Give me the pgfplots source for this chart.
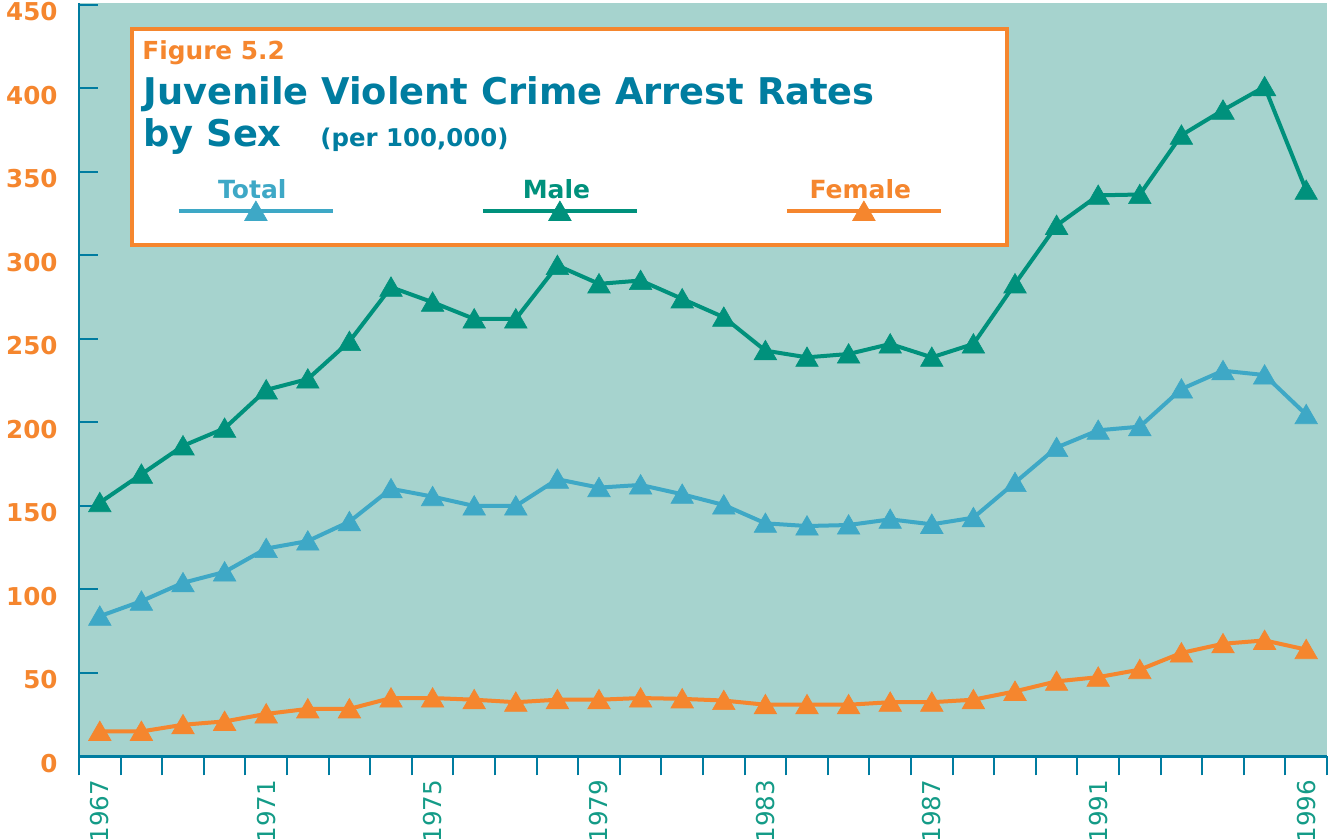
\documentclass[border=0pt]{standalone}
\usepackage{fontspec}
\setmainfont{DejaVu Sans}
\usepackage{pgfplots}
\usepackage{pgfplotstable}
\pgfplotsset{compat=1.18}
\definecolor{bgteal}{RGB}{166,211,206}
\definecolor{axisblue}{RGB}{0,124,160}
\definecolor{malec}{RGB}{0,145,124}
\definecolor{totalc}{RGB}{62,168,198}
\definecolor{femalec}{RGB}{245,134,46}
\definecolor{xlab}{RGB}{20,155,135}
\definecolor{titlec}{RGB}{0,125,160}

\pgfplotstableread{
year total male female
1967 84 152 15
1968 93 169 15
1969 104 186 19
1970 110.5 196.5 21
1971 124.5 219.5 25.5
1972 129 226 28.5
1973 140.6 248.5 28.5
1974 160.3 281 35
1975 155.6 272 35
1976 150 262 34
1977 150 262 32.5
1978 166 294 34
1979 161 283 34
1980 162.6 285 35
1981 157 274 34.5
1982 150.6 263 33.5
1983 139.6 243 31
1984 138 239 31
1985 138.6 241 31
1986 142 247 32.5
1987 139 239 32.5
1988 143 247 34
1989 164 283 39
1990 185 318 45
1991 195.3 336 47.5
1992 197.5 336.5 52
1993 220 372 62
1994 231 387 67.5
1995 228.4 401 69.5
1996 204.7 339 64
}\datatable

\begin{document}
\begin{tikzpicture}
\begin{axis}[
  at={(0,0)}, anchor=south west,
  scale only axis, width=624pt, height=376.6pt,
  xmin=1966.5, xmax=1996.5, ymin=0, ymax=451,
  clip=false,
  axis lines*=left,
  axis line style={draw=axisblue, line width=1.2pt},
  axis background/.style={fill=bgteal},
  xtick={1966.5,1967.5,...,1996.6},
  xticklabels={},
  ytick={0,50,...,450},
  xtick align=outside, ytick align=inside,
  major tick length=9.5pt,
  tick style={draw=axisblue, line width=1pt},
  xticklabel shift=11.5pt,
  extra x ticks={1967,1971,1975,1979,1983,1987,1991,1996},
  extra x tick labels={1967,1971,1975,1979,1983,1987,1991,1996},
  extra x tick style={major tick length=0pt, tick style={draw=none},
    xticklabel style={rotate=90, anchor=east, inner sep=0pt, text=xlab,
      font=\fontsize{12.3}{14}\selectfont}},
  /pgf/number format/assume math mode=true,
  yticklabel style={font=\bfseries\fontsize{12.3}{14}\selectfont, text=femalec,
    inner sep=0pt, xshift=-10.5pt, yshift=-3.5pt},
  legend columns=3,
  legend style={at={(axis description cs:0.02644,0.7667)}, anchor=north west,
    draw=none, fill=none, inner sep=0pt,
    font=\bfseries\fontsize{12.5}{15}\selectfont,
    nodes={text width=140pt, align=center, inner sep=0pt},
    /tikz/every even column/.append style={column sep=12pt}},
  legend image code/.code={
    \draw[overlay,#1,line width=2pt] (33.25pt,-10.5pt) -- (110.25pt,-10.5pt);
    \draw[overlay,#1] plot coordinates {(71.75pt,-10.5pt)};
  },
]
\draw[femalec, line width=2pt, fill=white]
  (axis description cs:0.04207,0.96588) rectangle (axis description cs:0.74359,0.67844);
\node[anchor=base west, inner sep=0pt, text=femalec, font=\bfseries\fontsize{12.4}{15}\selectfont]
  at (axis description cs:0.05048,0.92472) {Figure 5.2};
\node[anchor=base west, inner sep=0pt, text=titlec, font=\bfseries\fontsize{18.4}{22}\selectfont]
  at (axis description cs:0.05128,0.86498) {Juvenile Violent Crime Arrest Rates};
\node[anchor=base west, inner sep=0pt, text=titlec, font=\bfseries\fontsize{18.4}{22}\selectfont]
  at (axis description cs:0.05128,0.80922) {by Sex};
\node[anchor=base west, inner sep=0pt, text=titlec, font=\bfseries\fontsize{12.2}{15}\selectfont]
  at (axis description cs:0.19311,0.80922) {(per 100,000)};

\addplot[totalc, line width=2pt, mark=triangle*, mark size=6.5pt,
  mark options={line width=0.3pt, yshift=-1.3pt}] table[x=year,y=total]{\datatable};
\addlegendentry{\textcolor{totalc}{Total}}
\addplot[malec, line width=2pt, mark=triangle*, mark size=6.5pt,
  mark options={line width=0.3pt, yshift=-1.3pt}] table[x=year,y=male]{\datatable};
\addlegendentry{\textcolor{malec}{Male}}
\addplot[femalec, line width=2pt, mark=triangle*, mark size=6.5pt,
  mark options={line width=0.3pt, yshift=-1.3pt}] table[x=year,y=female]{\datatable};
\addlegendentry{\textcolor{femalec}{Female}}
\end{axis}
\pgfresetboundingbox
\path (-39.5pt,-41.25pt) rectangle (624.5pt,378.25pt);
\end{tikzpicture}
\end{document}
